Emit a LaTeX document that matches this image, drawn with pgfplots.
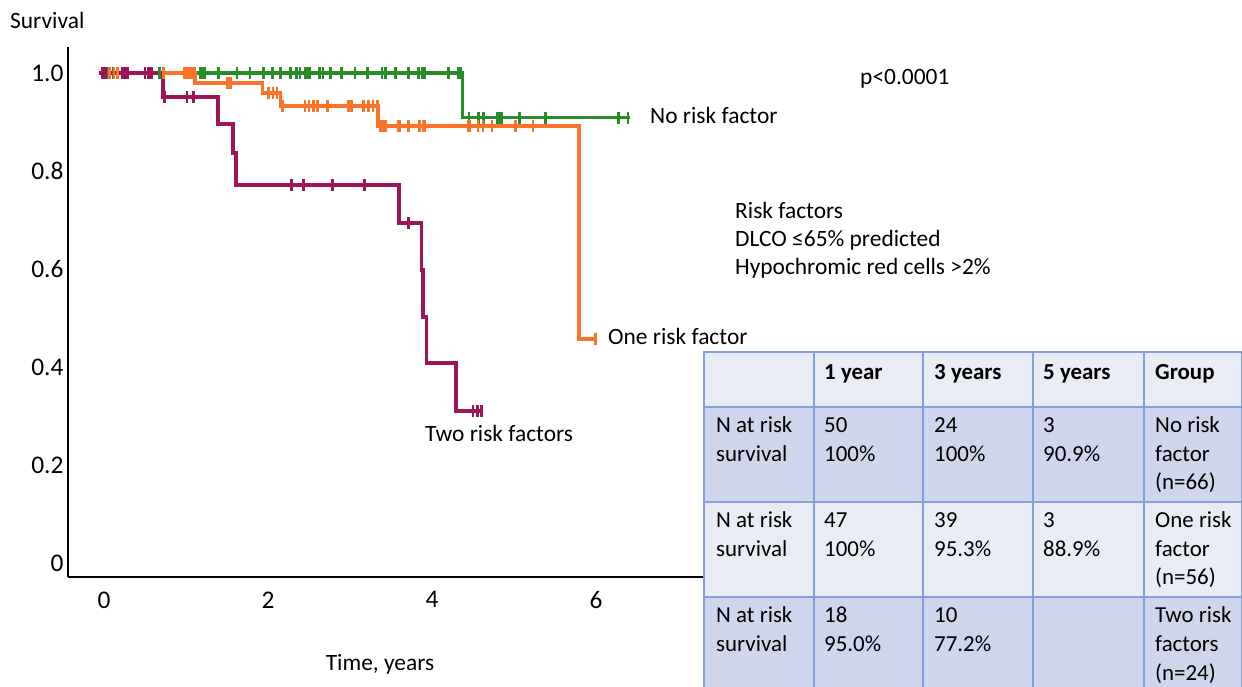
\documentclass[border=0pt]{standalone}
\usepackage{fontspec}
\setmainfont{Carlito}
\usepackage{pgfplots}
\pgfplotsset{compat=1.18}
\definecolor{kmgreen}{RGB}{40,140,40}
\definecolor{kmorange}{RGB}{250,115,40}
\definecolor{kmmaroon}{RGB}{155,22,88}
\definecolor{tlight}{RGB}{233,235,245}
\definecolor{tdark}{RGB}{207,213,234}
\definecolor{tborder}{RGB}{130,160,218}
\newcommand\lblfont{\fontsize{23.5}{28}\selectfont}
\newcommand\tabfont{\fontsize{23}{28}\selectfont}
\newcommand\tc[3]{\node[anchor=base west,inner sep=0pt,font=\tabfont] at (#1bp,#2bp) {#3};}
\pgfplotsset{
  kmline/.style={line width=3.6bp, const plot mark left, no marks},
  kmcens/.style={only marks, mark=|, mark size=6bp, mark options={line width=2.8bp}},
}
\begin{document}
\begin{tikzpicture}
\path[use as bounding box] (0,0) rectangle (1242bp,687bp);
\begin{axis}[
  at={(68bp,110bp)}, anchor=south west,
  scale only axis, width=635bp, height=530bp,
  xmin=-0.44, xmax=7.304, ymin=-0.02857, ymax=1.0531,
  axis x line*=bottom, axis y line*=left,
  axis line style={line width=2.2bp,-},
  major tick length=0pt,
  xtick={0,2,4,6}, xticklabels={0,2,4,6},
  ytick={0,0.2,0.4,0.6,0.8,1}, yticklabels={0,0.2,0.4,0.6,0.8,1.0},
  /pgf/number format/assume math mode=true,
  ticklabel style={font=\fontsize{25.5}{30}\selectfont},
  xticklabel style={yshift=-11bp},
  yticklabel style={xshift=-1bp},
  clip=false,
]
% No risk factor
\addplot[kmgreen, kmline] coordinates {
(-0.06,1) (4.37,0.909) (6.41,0.909)};
\addplot[kmgreen, kmcens] coordinates {
(0.05,1) (0.11,1) (0.68,1) (1.17,1) (1.20,1) (1.23,1) (1.40,1) (1.62,1) (1.78,1) (1.94,1)
(2.05,1) (2.15,1) (2.27,1) (2.35,1) (2.39,1) (2.45,1) (2.48,1) (2.51,1) (2.63,1) (2.67,1)
(2.76,1) (2.90,1) (3.06,1) (3.21,1) (3.39,1) (3.43,1) (3.55,1) (3.71,1) (3.83,1) (3.88,1)
(3.91,1) (4.20,1) (4.32,1) (4.35,1)
(4.45,0.909) (4.57,0.909) (4.63,0.909) (4.80,0.909) (4.83,0.909) (4.85,0.909) (5.07,0.909)
(5.38,0.909) (6.27,0.909) (6.39,0.909)};
% One risk factor
\addplot[kmorange, kmline] coordinates {
(-0.06,1) (1.11,0.980) (1.93,0.959) (2.15,0.933) (3.34,0.892) (5.79,0.457) (5.99,0.457)};
\addplot[kmorange, kmcens] coordinates {
(0.07,1) (0.12,1) (0.16,1) (0.72,1) (0.98,1) (1.01,1) (1.04,1) (1.07,1) (1.10,1)
(1.51,0.980) (1.54,0.980)
(2.01,0.959) (2.06,0.959) (2.11,0.959)
(2.18,0.933) (2.45,0.933) (2.50,0.933) (2.55,0.933) (2.60,0.933) (2.72,0.933) (2.98,0.933)
(3.02,0.933) (3.16,0.933) (3.22,0.933) (3.28,0.933) (3.33,0.933)
(3.37,0.892) (3.40,0.892) (3.43,0.892) (3.59,0.892) (3.61,0.892) (3.71,0.892) (3.85,0.892)
(3.89,0.892) (3.91,0.892) (4.44,0.892) (4.46,0.892) (4.56,0.892) (4.62,0.892) (4.73,0.892)
(5.02,0.892) (5.23,0.892)
(5.99,0.457)};
% Two risk factors
\addplot[kmmaroon, kmline] coordinates {
(-0.06,1) (0.72,0.951) (1.39,0.896) (1.57,0.837) (1.61,0.772) (3.60,0.694) (3.87,0.598)
(3.89,0.502) (3.93,0.408) (4.29,0.310) (4.61,0.310)};
\addplot[kmmaroon, kmcens] coordinates {
(-0.02,1) (0.02,1) (0.22,1) (0.26,1) (0.29,1) (0.50,1) (0.54,1) (0.58,1)
(0.74,0.951) (1.01,0.951) (1.09,0.951)
(2.29,0.772) (2.43,0.772) (2.79,0.772) (3.18,0.772)
(3.71,0.694)
(4.50,0.310) (4.55,0.310) (4.60,0.310)};
\end{axis}
% labels
\node[anchor=base west,inner sep=0pt,font=\lblfont] at (10bp,658bp) {Survival};
\node[anchor=base,inner sep=0pt,font=\lblfont] at (380bp,17bp) {Time, years};
\node[anchor=base west,inner sep=0pt,font=\lblfont] at (860bp,602bp) {p<0.0001};
\node[anchor=base west,inner sep=0pt,font=\lblfont] at (650bp,563bp) {No risk factor};
\node[anchor=base west,inner sep=0pt,font=\lblfont] at (608bp,342bp) {One risk factor};
\node[anchor=base west,inner sep=0pt,font=\lblfont] at (425bp,245bp) {Two risk factors};
\node[anchor=base west,inner sep=0pt,font=\lblfont] at (735bp,468bp) {Risk factors};
\node[anchor=base west,inner sep=0pt,font=\lblfont] at (735bp,440bp) {DLCO ≤65\% predicted};
\node[anchor=base west,inner sep=0pt,font=\lblfont] at (735bp,412bp) {Hypochromic red cells >2\%};
% table
\fill[tlight] (703bp,280bp) rectangle (1242bp,335bp);
\fill[tdark] (703bp,185bp) rectangle (1242bp,280bp);
\fill[tlight] (703bp,90bp) rectangle (1242bp,185bp);
\fill[tdark] (703bp,0bp) rectangle (1242bp,90bp);
\begin{scope}[draw=tborder, line width=1.5bp]
\foreach \yy in {335,280,185,90} \draw (703bp,\yy bp) -- (1242bp,\yy bp);
\foreach \xx in {703.75,814,923,1033,1144,1241.25} \draw (\xx bp,0bp) -- (\xx bp,335bp);
\end{scope}
\tc{824}{307}{\bfseries 1 year}
\tc{934}{307}{\bfseries 3 years}
\tc{1043}{307}{\bfseries 5 years}
\tc{1155}{307}{\bfseries Group}
% row 1
\tc{716}{254}{N at risk}\tc{716}{225.5}{survival}
\tc{824}{254}{50}\tc{824}{225.5}{100\%}
\tc{934}{254}{24}\tc{934}{225.5}{100\%}
\tc{1043}{254}{3}\tc{1043}{225.5}{90.9\%}
\tc{1155}{254}{No risk}\tc{1155}{225.5}{factor}\tc{1155}{197}{(n=66)}
% row 2
\tc{716}{159}{N at risk}\tc{716}{130.5}{survival}
\tc{824}{159}{47}\tc{824}{130.5}{100\%}
\tc{934}{159}{39}\tc{934}{130.5}{95.3\%}
\tc{1043}{159}{3}\tc{1043}{130.5}{88.9\%}
\tc{1155}{159}{One risk}\tc{1155}{130.5}{factor}\tc{1155}{102}{(n=56)}
% row 3
\tc{716}{64}{N at risk}\tc{716}{35.5}{survival}
\tc{824}{64}{18}\tc{824}{35.5}{95.0\%}
\tc{934}{64}{10}\tc{934}{35.5}{77.2\%}
\tc{1155}{64}{Two risk}\tc{1155}{35.5}{factors}\tc{1155}{7}{(n=24)}
\end{tikzpicture}
\end{document}
